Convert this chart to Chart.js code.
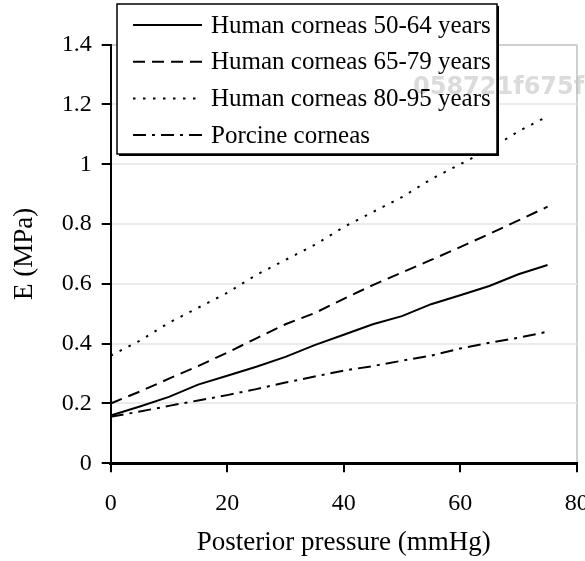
<!DOCTYPE html>
<html>
<head>
<meta charset="utf-8">
<script src="https://cdn.jsdelivr.net/npm/chart.js@4/dist/chart.umd.min.js"></script>
<style>
  html, body { margin: 0; padding: 0; background: #fff; }
  #wrap { width: 585px; height: 561px; }
</style>
</head>
<body>
<div id="wrap"><canvas id="chart" width="585" height="561"></canvas></div>
<script>
// posterior pressure (mmHg)
const pressure = [0, 5, 10, 15, 20, 25, 30, 35, 40, 45, 50, 55, 60, 65, 70, 75]

// E (MPa)
const human50to64 = [0.16, 0.19, 0.222, 0.263, 0.293, 0.323, 0.356, 0.395, 0.43, 0.465, 0.492, 0.532, 0.562, 0.593, 0.632, 0.663]
const human65to79 = [0.2, 0.24, 0.283, 0.325, 0.37, 0.418, 0.465, 0.502, 0.55, 0.596, 0.638, 0.68, 0.723, 0.767, 0.812, 0.858]
const human80to95 = [0.36, 0.41, 0.47, 0.52, 0.57, 0.63, 0.68, 0.73, 0.79, 0.84, 0.89, 0.95, 1.0, 1.05, 1.11, 1.16]
const porcine = [0.156, 0.173, 0.192, 0.21, 0.228, 0.248, 0.27, 0.29, 0.31, 0.325, 0.343, 0.36, 0.384, 0.403, 0.42, 0.44]

const seriesNames = ['Human corneas 50-64 years', 'Human corneas 65-79 years',
                     'Human corneas 80-95 years', 'Porcine corneas']
const xTicks = [0, 20, 40, 60, 80]
const yTicks = [0, 0.2, 0.4, 0.6, 0.8, 1, 1.2, 1.4]
const watermark = '058721f675f'

const serif = "'Liberation Serif', 'Times New Roman', serif"

const toPoints = vals => pressure.map((p, i) => ({ x: p, y: vals[i] }))

const line = (label, vals, dash) => ({
  label,
  data: toPoints(vals),
  borderColor: '#000',
  borderWidth: 2,
  borderDash: dash,
  pointRadius: 0,
  fill: false,
  tension: 0
})

// legend box drawn on top of the plot, like the original figure
const boxLegend = {
  id: 'boxLegend',
  afterDraw(chart) {
    const ctx = chart.ctx
    const x0 = 117, y0 = 4, w = 380, h = 150
    ctx.save()
    ctx.fillStyle = '#000'
    ctx.fillRect(x0 + 2, y0 + 2, w, h)
    ctx.fillStyle = '#fff'
    ctx.fillRect(x0, y0, w, h)
    ctx.strokeStyle = '#000'
    ctx.lineWidth = 1.5
    ctx.strokeRect(x0, y0, w, h)

    ctx.fillStyle = 'rgba(190,190,190,0.55)'
    ctx.font = "bold 24px 'DejaVu Sans', sans-serif"
    ctx.textBaseline = 'middle'
    ctx.textAlign = 'left'
    ctx.fillText(watermark, 413, 88)

    ctx.font = '25px ' + serif
    ctx.fillStyle = '#000'
    chart.data.datasets.forEach((ds, i) => {
      const y = 25 + i * 36.7
      ctx.setLineDash(ds.borderDash || [])
      ctx.lineWidth = ds.borderWidth
      ctx.beginPath()
      ctx.moveTo(133, y)
      ctx.lineTo(202, y)
      ctx.stroke()
      ctx.setLineDash([])
      ctx.fillText(ds.label, 211, y + 1)
    })
    ctx.restore()
  }
}

new Chart(document.getElementById('chart'), {
  type: 'line',
  data: {
    datasets: [
      line(seriesNames[0], human50to64, []),
      line(seriesNames[1], human65to79, [12, 7]),
      line(seriesNames[2], human80to95, [2.5, 7.5]),
      line(seriesNames[3], porcine, [13, 6, 3, 6])
    ]
  },
  options: {
    responsive: false,
    animation: false,
    layout: { padding: { left: 0, top: 44.6, right: 8.3, bottom: 0 } },
    plugins: {
      legend: { display: false },
      tooltip: { enabled: false }
    },
    scales: {
      x: {
        type: 'linear',
        min: 0,
        max: 80,
        afterBuildTicks: s => { s.ticks = xTicks.map(v => ({ value: v })) },
        afterFit: s => { s.height = 561 - 463.3; s.paddingLeft = 0; s.paddingRight = 0 },
        border: { color: '#000', width: 3 },
        grid: {
          color: c => c.tick && c.tick.value === 80 ? '#cfcfcf' : 'rgba(0,0,0,0)',
          lineWidth: 2,
          tickColor: '#000',
          tickWidth: 2,
          tickLength: 9
        },
        ticks: {
          color: '#000',
          padding: 17,
          maxRotation: 0,
          font: { family: serif, size: 24 }
        },
        title: {
          display: true,
          text: 'Posterior pressure (mmHg)',
          color: '#000',
          padding: { top: 0, bottom: 2 },
          font: { family: serif, size: 27 }
        }
      },
      y: {
        min: 0,
        max: 1.4,
        afterBuildTicks: s => { s.ticks = yTicks.map(v => ({ value: v })) },
        afterFit: s => { s.width = 110.7; s.paddingTop = 0; s.paddingBottom = 0 },
        border: { color: '#000', width: 2 },
        grid: {
          color: c => c.tick && c.tick.value === 1.4 ? '#cfcfcf' : '#ebebeb',
          lineWidth: 2,
          tickColor: '#000',
          tickWidth: 2,
          tickLength: 9
        },
        ticks: {
          color: '#000',
          padding: 10,
          callback: v => String(+v.toFixed(1)),
          font: { family: serif, size: 24 }
        },
        title: {
          display: true,
          text: 'E (MPa)',
          color: '#000',
          padding: { top: 9, bottom: 0 },
          font: { family: serif, size: 27 }
        }
      }
    }
  },
  plugins: [boxLegend]
})
</script>
</body>
</html>
